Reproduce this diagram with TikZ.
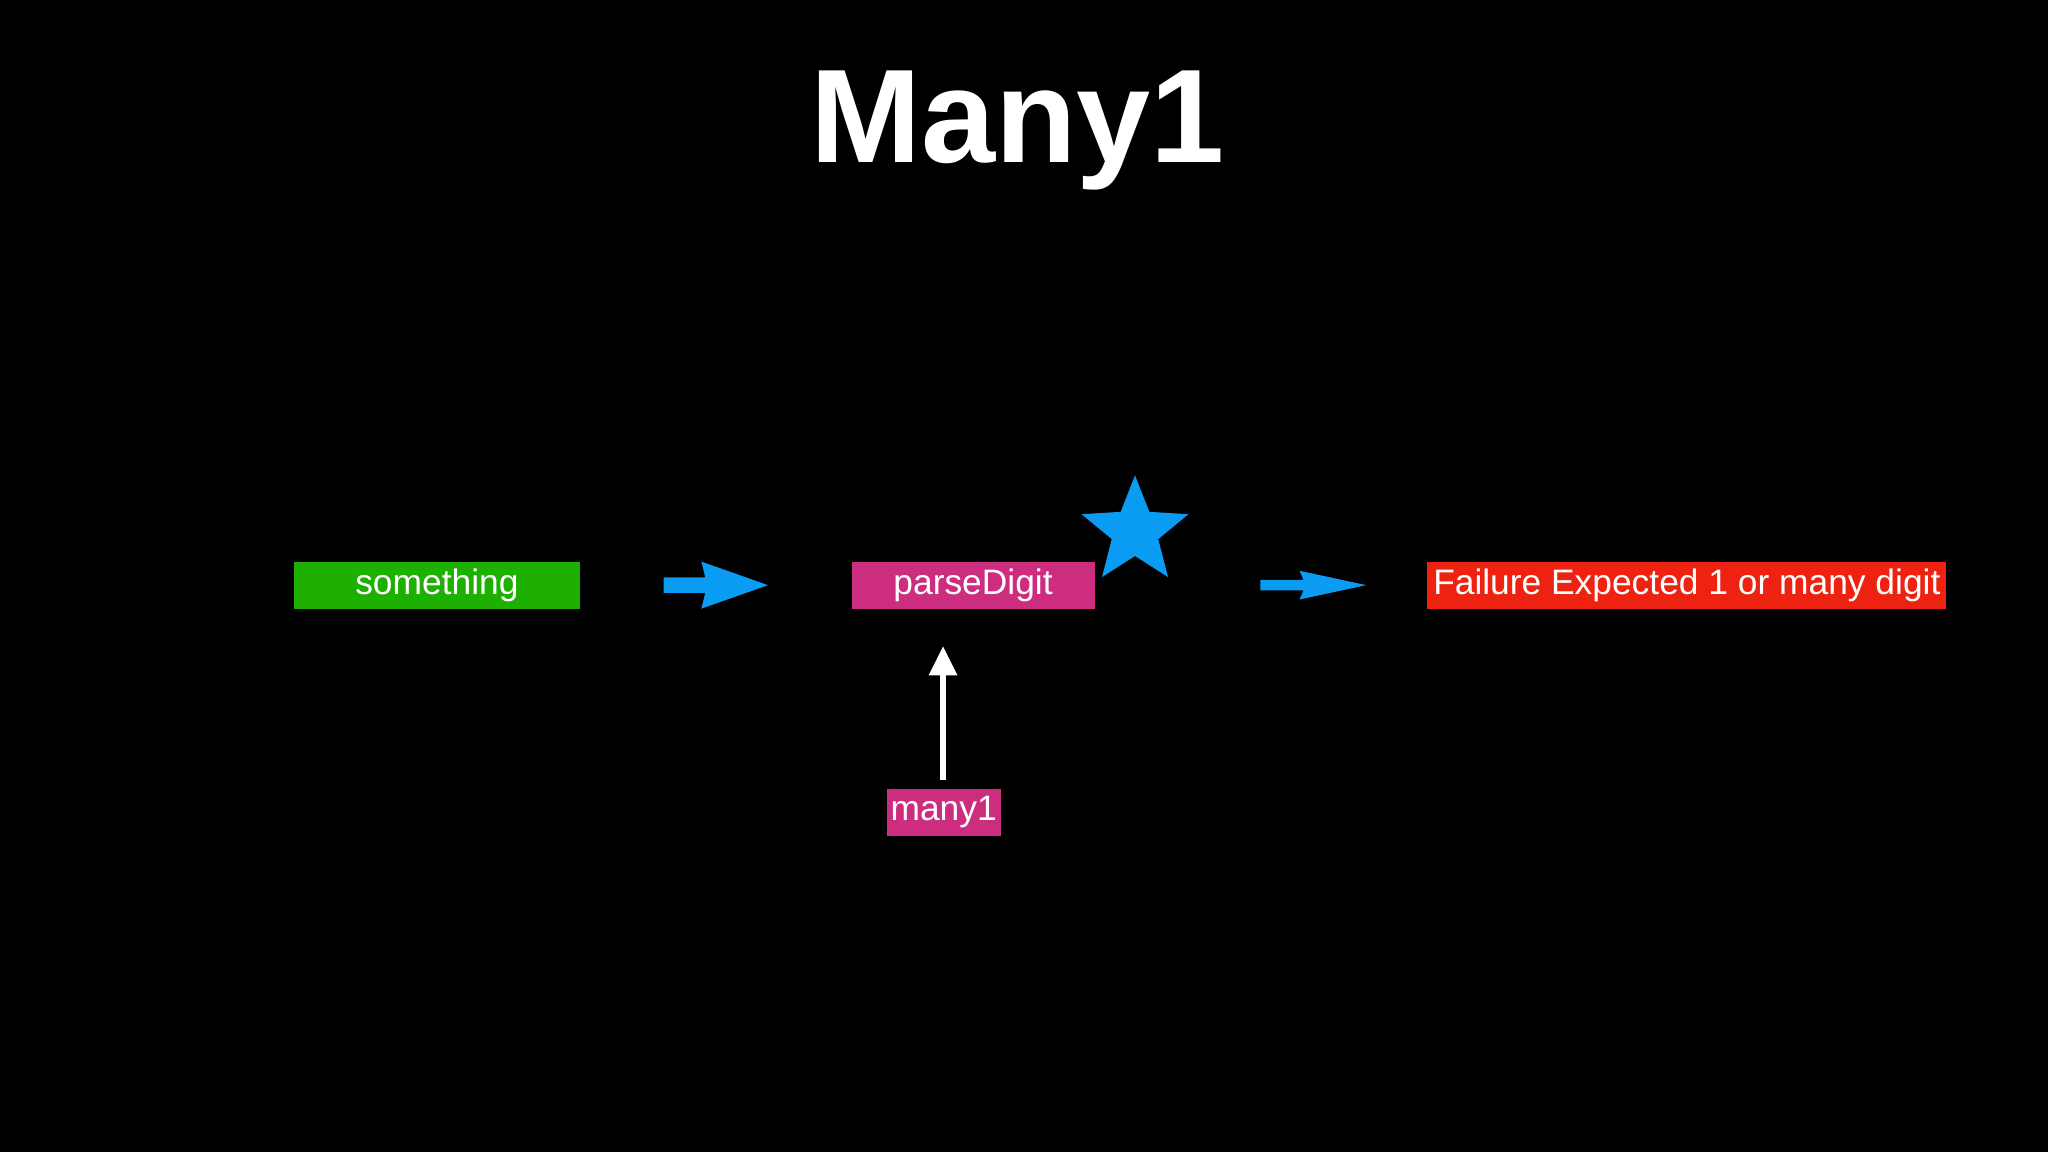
\documentclass[tikz,border=0pt]{standalone}
\usepackage{fontspec}
\setmainfont{Liberation Sans}
\usetikzlibrary{shapes.geometric}
\definecolor{grn}{HTML}{1DB000}
\definecolor{mag}{HTML}{CC2D7F}
\definecolor{rd}{HTML}{EE2211}
\definecolor{blu}{HTML}{0A9CF2}
\begin{document}
\begin{tikzpicture}[x=0.01cm,y=-0.01cm,
  box/.style={inner sep=0pt,minimum height=0.36cm,text=white,font=\fontsize{7.7}{8}\selectfont},
  fatarrow/.style={fill=blu,draw=none}]
\fill[black] (0,0) rectangle (1568,882);
\useasboundingbox (0,0) rectangle (1568,882);
\node[text=white,font=\fontsize{29}{30}\selectfont\bfseries] (title) at (779,100) {Many1};
\node[box,fill=grn,minimum width=2.19cm] (some) at (334.5,448) {something};
\node[box,fill=mag,minimum width=1.86cm] (pd) at (745,448) {parseDigit};
\node[box,fill=rd,minimum width=3.97cm] (fail) at (1291.5,448) {Failure Expected 1 or many digit};
\node[box,fill=mag,minimum width=0.87cm] (m1) at (722.5,622) {many1};
\node[star,star points=5,star point ratio=2.3,fill=blu,minimum size=0.86cm,inner sep=0pt] (st) at (869,407) {};
\fill[fatarrow] (508,442) -- (540,442) -- (537,430) -- (588,448) -- (537,466) -- (540,454) -- (508,454) -- cycle;
\fill[fatarrow] (965,444) -- (998,444) -- (995,437) -- (1046,448) -- (995,459) -- (998,452) -- (965,452) -- cycle;
\coordinate (ub) at (722,597);
\coordinate (ut) at (722,515);
\draw[white,line width=0.05cm] (ub) -- (ut);
\fill[white] (722,495) -- (733,517) -- (711,517) -- cycle;
\end{tikzpicture}
\end{document}
